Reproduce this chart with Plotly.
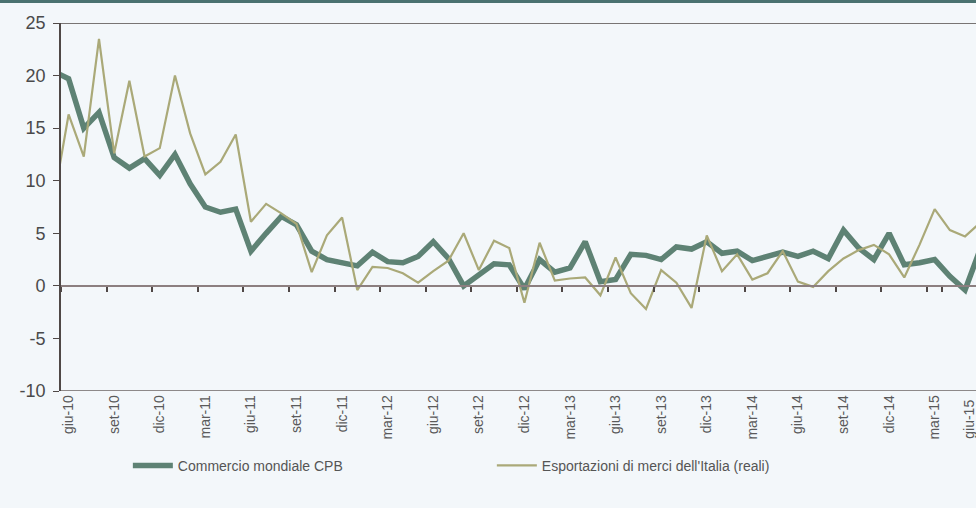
import plotly.graph_objects as go

# Monthly categories (first one is only partly visible, clipped at the axis)
months = [
    "mag-10", "giu-10", "lug-10", "ago-10", "set-10", "ott-10", "nov-10", "dic-10",
    "gen-11", "feb-11", "mar-11", "apr-11", "mag-11", "giu-11", "lug-11", "ago-11",
    "set-11", "ott-11", "nov-11", "dic-11", "gen-12", "feb-12", "mar-12", "apr-12",
    "mag-12", "giu-12", "lug-12", "ago-12", "set-12", "ott-12", "nov-12", "dic-12",
    "gen-13", "feb-13", "mar-13", "apr-13", "mag-13", "giu-13", "lug-13", "ago-13",
    "set-13", "ott-13", "nov-13", "dic-13", "gen-14", "feb-14", "mar-14", "apr-14",
    "mag-14", "giu-14", "lug-14", "ago-14", "set-14", "ott-14", "nov-14", "dic-14",
    "gen-15", "feb-15", "mar-15", "apr-15", "mag-15", "giu-15",
]

commercio_cpb = [
    20.4, 19.7, 15.0, 16.5, 12.2, 11.2, 12.1, 10.5,
    12.5, 9.7, 7.5, 7.0, 7.3, 3.3, 5.0, 6.6,
    5.8, 3.3, 2.5, 2.2, 1.9, 3.2, 2.3, 2.2,
    2.8, 4.2, 2.6, 0.0, 1.0, 2.1, 2.0, -0.3,
    2.5, 1.3, 1.7, 4.2, 0.4, 0.6, 3.0, 2.9,
    2.5, 3.7, 3.5, 4.2, 3.1, 3.3, 2.4, 2.8,
    3.2, 2.8, 3.3, 2.6, 5.3, 3.6, 2.5, 5.0,
    2.0, 2.2, 2.5, 0.9, -0.4, 3.5,
]

esportazioni_italia = [
    8.0, 16.3, 12.3, 23.5, 12.6, 19.5, 12.3, 13.1,
    20.0, 14.5, 10.6, 11.8, 14.4, 6.1, 7.8, 6.9,
    5.9, 1.3, 4.8, 6.5, -0.4, 1.8, 1.7, 1.2,
    0.3, 1.4, 2.4, 5.0, 1.5, 4.3, 3.6, -1.6,
    4.1, 0.5, 0.7, 0.8, -0.9, 2.7, -0.7, -2.2,
    1.5, 0.3, -2.1, 4.8, 1.4, 3.0, 0.6, 1.2,
    3.3, 0.4, -0.1, 1.4, 2.6, 3.4, 3.9, 3.0,
    0.8, 3.9, 7.3, 5.3, 4.7, 6.0,
]

tick_labels = [
    "giu-10", "set-10", "dic-10", "mar-11", "giu-11", "set-11", "dic-11",
    "mar-12", "giu-12", "set-12", "dic-12", "mar-13", "giu-13", "set-13",
    "dic-13", "mar-14", "giu-14", "set-14", "dic-14", "mar-15", "giu-15",
]

y_ticks = [-10, -5, 0, 5, 10, 15, 20, 25]
y_tick_text = ["-10", "-5", "0", "5", "10", "15", "20", "25"]

series_names = ["Commercio mondiale CPB", "Esportazioni di merci dell'Italia (reali)"]

BG = "#f3f7fa"
FONT = "Liberation Sans, Arial, sans-serif"
TICKFONT = dict(size=14, color="#5a5a5a", family=FONT)

x_range = [0.5, 60.72]
ymin, ymax = -10, 25

# paper position of the last tick label (its category lies just past the right edge)
last_idx = months.index(tick_labels[-1])
last_paper_x = (last_idx - x_range[0]) / (x_range[1] - x_range[0])

fig = go.Figure()
fig.add_trace(go.Scatter(
    x=months, y=commercio_cpb, name=series_names[0], mode="lines",
    line=dict(color="#5e8274", width=5.5),
))
fig.add_trace(go.Scatter(
    x=months, y=esportazioni_italia, name=series_names[1], mode="lines",
    line=dict(color="#aaa978", width=2.2),
))

fig.update_layout(
    width=976, height=508,
    margin=dict(l=61, r=0, t=23, b=117, autoexpand=False),
    paper_bgcolor=BG, plot_bgcolor=BG,
    font=dict(family=FONT, color="#505050"),
    showlegend=True,
    legend=dict(
        orientation="h", xref="container", yref="container",
        x=0.131, y=0.083, xanchor="left", yanchor="middle",
        font=dict(size=14, color="#555555", family=FONT),
        entrywidth=309, entrywidthmode="pixels",
        bgcolor="rgba(0,0,0,0)", itemwidth=40,
    ),
    xaxis=dict(
        type="category", categoryorder="array", categoryarray=months,
        range=x_range, automargin=False,
        anchor="free", position=(0 - ymin) / (ymax - ymin),
        showline=True, linecolor="#8c7f80", linewidth=1.5,
        ticks="outside", ticklen=5, tickcolor="#4f4846", tickwidth=1.5,
        tickson="boundaries",
        tickmode="array", tickvals=tick_labels, ticktext=tick_labels,
        tickangle=-90, ticklabelstandoff=103,
        tickfont=TICKFONT,
        showgrid=False, zeroline=False,
    ),
    yaxis=dict(
        range=[ymin, ymax], automargin=False,
        tickmode="array", tickvals=y_ticks, ticktext=y_tick_text,
        showline=True, linecolor="#4f4846", linewidth=1.8,
        ticks="outside", ticklen=6, tickcolor="#4f4846",
        ticklabelstandoff=4,
        tickfont=dict(size=18, color="#4a4a4a", family=FONT),
        showgrid=False, zeroline=False,
    ),
    shapes=[
        dict(type="line", xref="paper", yref="y", x0=0, x1=1, y0=ymax, y1=ymax,
             line=dict(color="#4f4846", width=1.5), layer="below"),
        dict(type="line", xref="paper", yref="y", x0=0, x1=1, y0=ymin, y1=ymin,
             line=dict(color="#6b6463", width=1.5), layer="below"),
        dict(type="line", xref="paper", yref="paper", x0=-0.1, x1=1.05,
             y0=1 + 21.5 / 368, y1=1 + 21.5 / 368,
             line=dict(color="#4a7270", width=3)),
    ],
    annotations=[
        dict(text=tick_labels[-1], x=last_paper_x, xref="paper", y=ymin, yref="y",
             yshift=-7, xshift=-12, textangle=-90, xanchor="center", yanchor="top",
             showarrow=False, font=TICKFONT),
    ],
)

fig.write_html(
    "out.html",
    config={"displayModeBar": False},
    post_script="document.body.style.margin='0';document.body.style.overflow='hidden';"
                "document.body.style.background='" + BG + "';",
)
